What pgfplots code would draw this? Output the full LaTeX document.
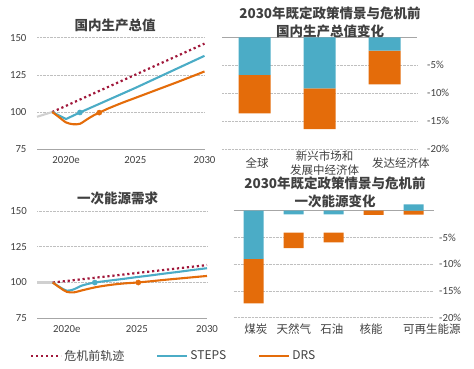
\documentclass[border=0pt]{standalone}
\usepackage{fontspec}
\usepackage{pgfplots}
\pgfplotsset{compat=1.18}
\setmainfont{Noto Sans CJK SC}
\newfontfamily\lat{Carlito}
\definecolor{cblue}{HTML}{4BACC6}
\definecolor{corange}{HTML}{E46C0A}
\definecolor{cred}{HTML}{A0173A}
\definecolor{cgrid}{HTML}{BFBFBF}
\definecolor{caxis}{HTML}{A6A6A6}
\definecolor{ctext}{HTML}{404040}
\definecolor{chist}{HTML}{D0D0D0}
\pgfplotsset{
  base/.style={
    scale only axis, clip=false,
    axis line style={draw=none},
    major tick length=0pt,
    ymajorgrids, xmajorgrids=false,
    grid style={densely dotted, color=cgrid, line width=0.7pt},
    tick label style={font=\lat\fontsize{10.8}{12}\selectfont, text=ctext},
    /pgf/number format/assume math mode=true,
  },
  linep/.style={base,
    xmin=2017.9, xmax=2030, ymin=75, ymax=150,
    ytick={100,125,150},
    extra y ticks={75},
    extra y tick style={grid=major, major grid style={solid, color=caxis, line width=0.9pt}},
    xtick={2020,2025,2030}, xticklabels={2020e,2025,2030},
    xticklabel style={yshift=-4pt},
    yticklabel style={xshift=-7pt},
  },
  barp/.style={base, ybar stacked,
    ymin=-20,
    ytick={-20,-15,-10,-5}, yticklabels={-20\%,-15\%,-10\%,-5\%},
    yticklabel pos=right,
    extra y ticks={0}, extra y tick labels={},
    extra y tick style={grid=major, major grid style={solid, color=caxis, line width=0.9pt}},
    xticklabel style={align=center, anchor=center, font=\fontsize{11.5}{14.5}\selectfont, text=ctext},
  },
  ln/.style={line width=2.1pt},
  dotl/.style={cred, line width=2.2pt, dash pattern=on 2.2pt off 2.8pt},
}
\begin{document}
\begin{tikzpicture}[x=1pt,y=1pt]
\path[use as bounding box] (0,0) rectangle (474,369);

% ---------- top-left: GDP ----------
\begin{axis}[linep, at={(37pt,219.8pt)}, anchor=south west, width=167.5pt, height=111.5pt]
\addplot[chist, ln] coordinates {(2017.9,96.8) (2019,100)};
\addplot[dotl] coordinates {(2019,100) (2030,146)};
\addplot[cblue, ln] coordinates {(2019,100) (2020,95.3) (2021,99.7) (2025,116.2) (2030,137.8)};
\addplot[corange, ln, smooth, tension=0.5] coordinates {(2019,100) (2019.5,96.5) (2020,93) (2020.5,91.8) (2021,92.1) (2021.5,95) (2022,97.8) (2022.5,100) (2023,102.2) (2024,106) (2025,109.5) (2026,113) (2027,116.5) (2028,120) (2029,123.6) (2030,127.3)};
\addplot[only marks, mark=*, mark size=2.6pt, cblue] coordinates {(2021,99.7)};
\addplot[only marks, mark=*, mark size=2.6pt, corange] coordinates {(2022.4,99.6)};
\end{axis}
\node[font=\bfseries\fontsize{13.5}{16}\selectfont, text=ctext] at (115,344) {国内生产总值};

% ---------- bottom-left: primary energy demand ----------
\begin{axis}[linep, at={(37.3pt,50.7pt)}, anchor=south west, width=169.7pt, height=107.3pt,
  legend columns=3,
  legend style={at={(-0.061,-0.349)}, anchor=west, draw=none, fill=none,
    font=\fontsize{12}{14}\selectfont, text=ctext,
    /tikz/every even column/.append style={column sep=30pt}},
  legend image code/.code={\draw[#1] (0pt,0pt) -- (30pt,0pt);},
]
\addplot[chist, ln, forget plot] coordinates {(2017.9,100) (2019,100)};
\addplot[dotl] coordinates {(2019,100) (2030,112.2)};
\addlegendentry{危机前轨迹}
\addplot[cblue, ln, smooth, tension=0.5] coordinates {(2019,100) (2019.5,96.8) (2020,94.3) (2020.5,95.2) (2021,97.6) (2021.5,99) (2022,100) (2023,101.3) (2024,102.5) (2025,103.8) (2026,105) (2027,106.3) (2028,107.5) (2029,108.8) (2030,110)};
\addlegendentry{STEPS}
\addplot[corange, ln, smooth, tension=0.5] coordinates {(2019,100) (2019.5,96.5) (2020,93.5) (2020.5,93.1) (2021,94.3) (2022,96.6) (2023,98.2) (2024,99.3) (2025,100) (2026,100.9) (2027,101.9) (2028,102.8) (2029,103.7) (2030,104.6)};
\addlegendentry{DRS}
\addplot[only marks, mark=*, mark size=2.6pt, cblue, forget plot] coordinates {(2022,100)};
\addplot[only marks, mark=*, mark size=2.6pt, corange, forget plot] coordinates {(2025.1,100)};
\end{axis}
\node[font=\bfseries\fontsize{13.5}{16}\selectfont, text=ctext] at (117.5,170.7) {一次能源需求};

% ---------- top-right: GDP change bars ----------
\begin{axis}[barp, bar width=32pt, at={(222pt,219.7pt)}, anchor=south west, width=195pt, height=112pt,
  xmin=-0.5, xmax=2.5, ymax=0,
  yticklabel style={anchor=west, xshift=6.7pt},
  xtick={0.04,1.08,2.25},
  xticklabels={全球,{新兴市场和\\发展中经济体},发达经济体},
  xticklabel style={yshift=-13.7pt},
]
\addplot[fill=cblue, draw=none] coordinates {(0,-6.7) (1,-9.1) (2,-2.4)};
\addplot[fill=corange, draw=none] coordinates {(0,-6.9) (1,-7.3) (2,-6.0)};
\end{axis}
\node[font=\bfseries\fontsize{13.5}{18.4}\selectfont, text=ctext, align=center] at (330,346.5) {2030年既定政策情景与危机前\\国内生产总值变化};

% ---------- bottom-right: energy change bars ----------
\begin{axis}[barp, bar width=20pt, at={(233.5pt,51.3pt)}, anchor=south west, width=200pt, height=115pt,
  xmin=-0.5, xmax=4.5, ymax=1.5,
  yticklabel style={anchor=west, xshift=2.2pt},
  xtick={0.06,1.01,1.96,2.94,4.46},
  xticklabels={煤炭,天然气,石油,核能,可再生能源},
  xticklabel style={yshift=-11.5pt},
]
\addplot[fill=cblue, draw=none] coordinates {(0,-9.0) (1,-0.7) (2,-0.7) (3,0) (4,1.2)};
\addplot[fill=none, draw=none] coordinates {(0,0) (1,-3.4) (2,-3.4) (3,0) (4,0)};
\addplot[fill=corange, draw=none] coordinates {(0,-8.3) (1,-2.9) (2,-1.8) (3,-0.8) (4,-0.75)};
\end{axis}
\node[font=\bfseries\fontsize{13.5}{18}\selectfont, text=ctext, align=center] at (335,177) {2030年既定政策情景与危机前\\一次能源变化};
\end{tikzpicture}
\end{document}
